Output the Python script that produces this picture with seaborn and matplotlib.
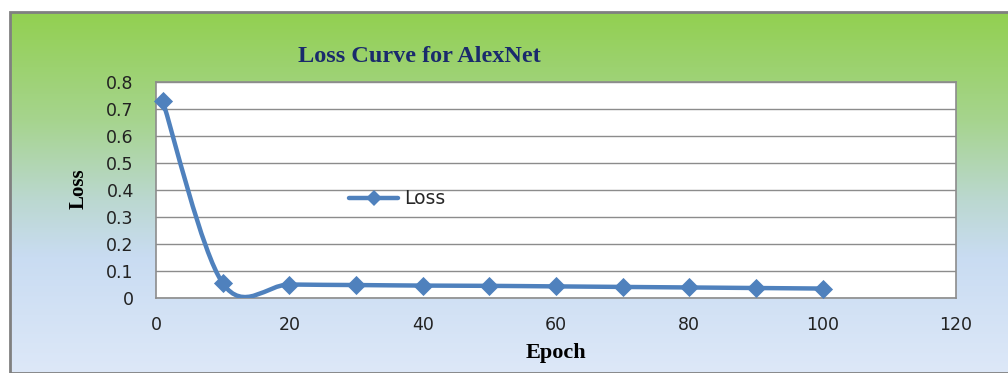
import numpy as np
import matplotlib
matplotlib.use("Agg")
import matplotlib.pyplot as plt
from matplotlib.path import Path
from matplotlib.patches import PathPatch, Rectangle
from matplotlib.lines import Line2D
from matplotlib.colors import LinearSegmentedColormap
import seaborn as sns

# Training loss recorded at selected epochs
epochs = [1, 10, 20, 30, 40, 50, 60, 70, 80, 90, 100]
loss = [0.73, 0.055, 0.050, 0.048, 0.046, 0.045, 0.043, 0.041, 0.039, 0.037, 0.035]
x_ticks = [0, 20, 40, 60, 80, 100, 120]
y_ticks = [0, 0.1, 0.2, 0.3, 0.4, 0.5, 0.6, 0.7, 0.8]
y_tick_labels = ["0", "0.1", "0.2", "0.3", "0.4", "0.5", "0.6", "0.7", "0.8"]

LINE = "#4F81BD"
GRID = "#8C8C8C"

sns.set_theme(style="white")
plt.rcParams["font.family"] = ["DejaVu Sans"]

W, H = 1008, 373
fig = plt.figure(figsize=(W / 100, H / 100), dpi=100)
fig.patch.set_facecolor("white")

# Chart area: vertical green-to-blue gradient with a grey frame
bg = fig.add_axes([10 / W, 0, 1 - 10 / W, 1 - 12 / H])
bg.set_axis_off()
grad_cmap = LinearSegmentedColormap.from_list(
    "chart_bg",
    [(0.0, "#92D050"), (0.30, "#A6D48E"), (0.52, "#BBD8D0"),
     (0.68, "#C9DCF2"), (1.0, "#DDE8F8")],
)
bg.imshow(np.linspace(0, 1, 256).reshape(-1, 1), aspect="auto", cmap=grad_cmap,
          extent=[0, 1, 0, 1], origin="upper")
bg.set_xlim(0, 1)
bg.set_ylim(0, 1)
bg.add_patch(Rectangle((0, 0), 1.2, 1, fill=False, edgecolor="#808080",
                       linewidth=2, transform=bg.transAxes, clip_on=False))

# Plot area
left, right = 156 / W, 956 / W
bottom, top = 1 - 298 / H, 1 - 82 / H
ax = fig.add_axes([left, bottom, right - left, top - bottom])
ax.set_facecolor("white")
ax.set_xlim(0, 120)
ax.set_ylim(0, 0.8)
ax.set_xticks(x_ticks)
ax.set_yticks(y_ticks)
ax.set_yticklabels(y_tick_labels)
ax.tick_params(axis="x", length=0, pad=13, labelsize=12.5, colors="#222222")
ax.tick_params(axis="y", length=0, pad=16, labelsize=12.5, colors="#222222")
ax.grid(axis="y", color=GRID, linewidth=1.0)
ax.grid(axis="x", visible=False)
ax.set_axisbelow(True)
for s in ax.spines.values():
    s.set_visible(True)
    s.set_color(GRID)
    s.set_linewidth(1.2)

# Smoothed connecting curve (Catmull-Rom segments as cubic Beziers)
pts = np.column_stack([epochs, loss]).astype(float)
n = len(pts)
verts = [tuple(pts[0])]
codes = [Path.MOVETO]
for i in range(n - 1):
    p0 = pts[i - 1] if i > 0 else pts[i]
    p1 = pts[i]
    p2 = pts[i + 1]
    p3 = pts[i + 2] if i + 2 < n else pts[i + 1]
    c1 = p1 + (p2 - p0) / 6.0
    c2 = p2 - (p3 - p1) / 6.0
    verts += [tuple(c1), tuple(c2), tuple(p2)]
    codes += [Path.CURVE4, Path.CURVE4, Path.CURVE4]
curve = PathPatch(Path(verts, codes), facecolor="none", edgecolor=LINE,
                  linewidth=3.2, capstyle="round", joinstyle="round", zorder=3)
ax.add_patch(curve)

sns.scatterplot(x=epochs, y=loss, ax=ax, marker="D", s=95, color=LINE,
                edgecolor=LINE, linewidth=0, zorder=4, legend=False, clip_on=False)

handle = Line2D([], [], color=LINE, linewidth=3.2, marker="D", markersize=8,
                markeredgewidth=0)
ax.legend([handle], ["Loss"], loc="center left", frameon=False,
          bbox_to_anchor=((340 - 156) / 800, (298 - 199) / 216),
          handlelength=2.6, handletextpad=0.3, borderpad=0,
          prop={"family": "DejaVu Sans", "size": 13.5})

# Titles and axis names
fig.text(419 / W, 1 - 57 / H, "Loss Curve for AlexNet", ha="center", va="center",
         fontsize=17.5, fontweight="bold", family="Liberation Serif", color="#1A2A6C")
fig.text(556 / W, 1 - 353 / H, "Epoch", ha="center", va="center",
         fontsize=16, fontweight="bold", family="Liberation Serif", color="black")
fig.text(79 / W, 1 - 189 / H, "Loss", ha="center", va="center", rotation=90,
         fontsize=15, fontweight="bold", family="Liberation Serif", color="black")

fig.savefig("out.png", dpi=100)
